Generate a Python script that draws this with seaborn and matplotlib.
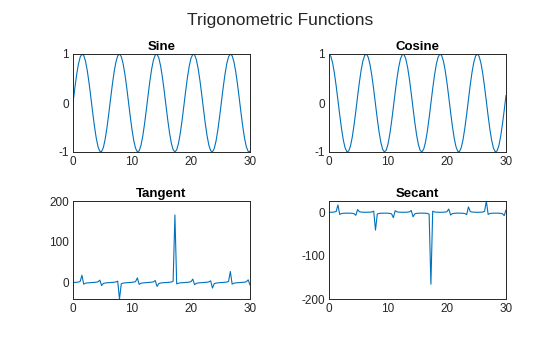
import numpy as np
import matplotlib
matplotlib.use("Agg")
import matplotlib.pyplot as plt
import seaborn as sns
import pandas as pd

# sample grid (100 evenly spaced samples from 0 to 30)
x = np.linspace(0, 30, 100)

sine = [0.000,0.298,0.570,0.789,0.936,0.998,0.970,0.852,0.657,0.403,
        0.111,-0.191,-0.475,-0.716,-0.892,-0.986,-0.991,-0.905,-0.737,-0.502,
        -0.221,0.080,0.374,0.634,0.836,0.962,1.000,0.947,0.808,0.595,
        0.328,0.031,-0.269,-0.544,-0.770,-0.925,-0.996,-0.977,-0.868,-0.680,
        -0.431,-0.142,0.160,0.447,0.694,0.877,0.981,0.994,0.918,0.758,
        0.528,0.251,-0.050,-0.345,-0.610,-0.818,-0.953,-1.000,-0.956,-0.825,
        -0.619,-0.357,-0.062,0.239,0.518,0.750,0.913,0.993,0.983,0.883,
        0.703,0.458,0.172,-0.130,-0.420,-0.671,-0.862,-0.974,-0.997,-0.930,
        -0.777,-0.554,-0.280,0.019,0.316,0.585,0.800,0.943,0.999,0.965,
        0.842,0.643,0.385,0.092,-0.209,-0.491,-0.729,-0.900,-0.989,-0.988]

cosine = [1.000,0.954,0.822,0.614,0.351,0.056,-0.245,-0.523,-0.754,-0.915,
          -0.994,-0.982,-0.880,-0.698,-0.453,-0.166,0.136,0.425,0.676,0.865,
          0.975,0.997,0.927,0.773,0.549,0.275,-0.025,-0.322,-0.590,-0.804,
          -0.945,-1.000,-0.963,-0.839,-0.638,-0.380,-0.086,0.215,0.497,0.733,
          0.903,0.990,0.987,0.894,0.720,0.480,0.196,-0.105,-0.397,-0.653,
          -0.849,-0.968,-0.999,-0.938,-0.793,-0.575,-0.304,-0.006,0.293,0.565,
          0.785,0.934,0.998,0.971,0.855,0.662,0.408,0.117,-0.185,-0.470,
          -0.712,-0.889,-0.985,-0.992,-0.908,-0.741,-0.507,-0.227,0.074,0.369,
          0.629,0.832,0.960,1.000,0.949,0.811,0.600,0.333,0.037,-0.263,
          -0.539,-0.766,-0.923,-0.996,-0.978,-0.871,-0.685,-0.436,-0.148,0.154]

tangent = [0.00,0.31,0.69,1.28,2.67,17.95,-3.96,-1.63,-0.87,-0.44,
           -0.11,0.19,0.54,1.03,1.97,5.93,-7.30,-2.13,-1.09,-0.58,
           -0.23,0.08,0.40,0.82,1.52,3.50,-40.30,-2.94,-1.37,-0.74,
           -0.35,-0.03,0.28,0.65,1.21,2.44,11.53,-4.55,-1.75,-0.93,
           -0.48,-0.14,0.16,0.50,0.96,1.83,4.99,-9.47,-2.31,-1.16,
           -0.62,-0.26,0.05,0.37,0.77,1.42,3.13,165.77,-3.27,-1.46,
           -0.79,-0.38,-0.06,0.25,0.61,1.13,2.24,8.48,-5.32,-1.88,
           -0.99,-0.52,-0.17,0.13,0.46,0.91,1.70,4.30,-13.41,-2.52,
           -1.24,-0.67,-0.29,0.02,0.33,0.72,1.33,2.83,27.11,-3.67,
           -1.56,-0.84,-0.42,-0.09,0.21,0.56,1.06,2.06,6.70,-6.41]

secant = [1.00,1.05,1.22,1.63,2.85,17.98,-4.08,-1.91,-1.33,-1.09,
          -1.01,-1.02,-1.14,-1.43,-2.21,-6.02,7.37,2.35,1.48,1.16,
          1.03,1.00,1.08,1.29,1.82,3.64,-40.32,-3.11,-1.70,-1.24,
          -1.06,-1.00,-1.04,-1.19,-1.57,-2.63,-11.58,4.65,2.01,1.36,
          1.11,1.01,1.01,1.12,1.39,2.08,5.09,-9.52,-2.52,-1.53,
          -1.18,-1.03,-1.00,-1.07,-1.26,-1.74,-3.29,-165.77,3.42,1.77,
          1.27,1.07,1.00,1.03,1.17,1.51,2.45,8.54,-5.42,-2.13,
          -1.41,-1.13,-1.02,-1.01,-1.10,-1.35,-1.97,-4.41,13.45,2.71,
          1.59,1.20,1.04,1.00,1.05,1.23,1.67,3.00,27.13,-3.80,
          -1.86,-1.31,-1.08,-1.00,-1.02,-1.15,-1.46,-2.29,-6.77,6.48]

titles = ["Sine", "Cosine", "Tangent", "Secant"]
series = [sine, cosine, tangent, secant]
xticks = [0, 10, 20, 30]
yticks = [[-1, 0, 1], [-1, 0, 1], [0, 100, 200], [-200, -100, 0]]
ylims = [(-1, 1), (-1, 1), (min(tangent), 200), (-200, max(secant))]

df = pd.concat([pd.DataFrame({"x": x, "y": s, "f": t}) for t, s in zip(titles, series)],
               ignore_index=True)

sns.set_style("white")
plt.rcParams['font.family'] = ['Liberation Sans', 'DejaVu Sans']
plt.rcParams['axes.unicode_minus'] = False

W, H = 560, 337
fig = plt.figure(figsize=(W / 100, H / 100), dpi=100)
frames = {"Sine": (73, 54), "Cosine": (329, 54), "Tangent": (73, 201), "Secant": (329, 201)}
aw, ah = 177, 98
dark = "#262626"

for i, name in enumerate(titles):
    l, t = frames[name]
    ax = fig.add_axes([l / W, 1 - (t + ah) / H, aw / W, ah / H])
    sns.lineplot(data=df[df["f"] == name], x="x", y="y", ax=ax, color="#0072BD",
                 lw=0.8, estimator=None, sort=False)
    ax.set_xlim(0, 30)
    ax.set_ylim(*ylims[i])
    ax.set_xticks(xticks)
    ax.set_yticks(yticks[i])
    ax.set_xlabel("")
    ax.set_ylabel("")
    ax.set_title(name, fontsize=9.5, fontweight="bold", pad=3, color="black")
    ax.tick_params(direction="in", length=2.5, width=0.6, labelsize=8.5,
                   colors=dark, pad=3, top=False, right=False)
    ax.tick_params(axis="both", labelcolor=dark)
    for sp in ax.spines.values():
        sp.set_color(dark)
        sp.set_linewidth(0.7)

fig.suptitle("Trigonometric Functions", fontsize=12.5, y=1 - 20 / H, va="center", color=dark)
fig.savefig("out.png", dpi=100)
